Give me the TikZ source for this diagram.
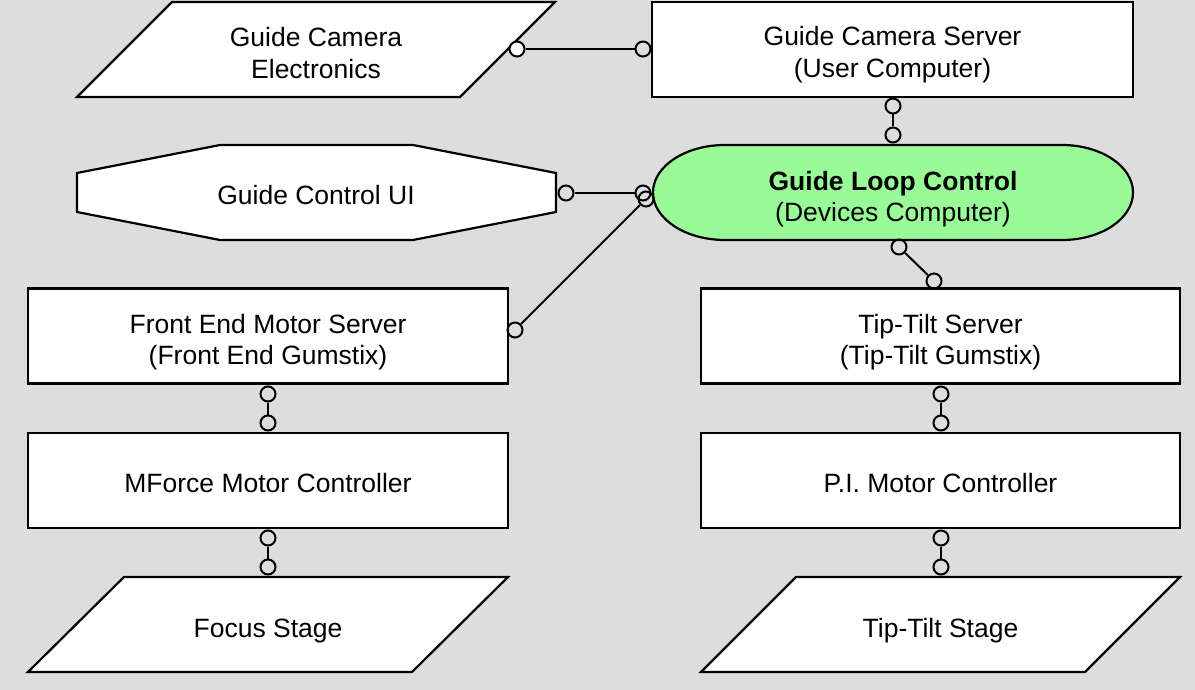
\documentclass[tikz,border=0pt]{standalone}
\usepackage{fontspec}
\setmainfont{Liberation Sans}
\definecolor{bgcol}{RGB}{221,221,221}
\definecolor{glcgreen}{RGB}{152,251,152}
\begin{document}
\begin{tikzpicture}[x=1pt,y=-1pt,line join=miter]
\tikzset{
  txt/.style={font=\fontsize{26.5}{31.5}\selectfont, align=center, inner sep=0pt},
  shapeline/.style={draw=black, fill=white, line width=2.2pt},
  box/.style={shapeline, rectangle, minimum width=480pt, minimum height=95pt, inner sep=0pt},
  port/.style={circle, draw=black, line width=2pt, minimum size=15pt, inner sep=0pt},
  wire/.style={draw=black, line width=2pt}
}
% background
\fill[bgcol] (0,0) rectangle (1195,690);

% Guide Camera Electronics (parallelogram)
\draw[shapeline] (172,2) -- (555,2) -- (460,97) -- (77,97) -- cycle;
\node[txt] (gce) at (316,53) {Guide Camera\\Electronics};

% Guide Camera Server
\node[box, minimum width=481pt] (gcs) at (892.5,49.5) {};
\node[txt] (gcst) at (892.5,54.5) {Guide Camera Server\\(User Computer)};

% Guide Control UI (octagon)
\draw[shapeline] (77,173) -- (220,145) -- (413,145) -- (556,173) -- (556,212) -- (413,240) -- (220,240) -- (77,212) -- cycle;
\node[txt] (gcu) at (316,195) {Guide Control UI};

% Guide Loop Control (stadium)
\draw[shapeline, fill=glcgreen] (725,145) -- (1062,145)
  arc[start angle=-90, end angle=90, x radius=71, y radius=47.5]
  -- (725,240)
  arc[start angle=90, end angle=270, x radius=72, y radius=47.5] -- cycle;
\node[txt] (glc) at (893,199) {\textbf{Guide Loop Control}\\(Devices Computer)};

% left column
\node[box] (fems) at (268,336) {};
\node[txt] (femst) at (268,342) {Front End Motor Server\\(Front End Gumstix)};
\node[box] (mforce) at (268,480.5) {};
\node[txt] (mforcet) at (268,483.5) {MForce Motor Controller};
\draw[shapeline] (124,577) -- (508,577) -- (412,672) -- (28,672) -- cycle;
\node[txt] (focus) at (268,631) {Focus Stage};

% right column
\node[box, minimum width=479pt] (tts) at (940.5,336) {};
\node[txt] (ttst) at (940.5,342) {Tip-Tilt Server\\(Tip-Tilt Gumstix)};
\node[box, minimum width=479pt] (pimc) at (940.5,480.5) {};
\node[txt] (pimct) at (940.5,483.5) {P.I. Motor Controller};
\draw[shapeline] (796,577) -- (1180,577) -- (1085,672) -- (701,672) -- cycle;
\node[txt] (ttstage) at (940.5,631) {Tip-Tilt Stage};

% ports
\node[port, fill=white] (c1) at (517,49) {};
\node[port] (c2) at (643,49) {};
\node[port] (c3) at (893,106) {};
\node[port] (c4) at (893,135) {};
\node[port] (c5) at (566,193) {};
\node[port] (c6) at (643,193) {};
\node[port] (c7) at (646,199) {};
\node[port] (c8) at (515,330) {};
\node[port] (c9) at (899,247) {};
\node[port] (c10) at (934,281) {};
\node[port] (c11) at (268,394) {};
\node[port] (c12) at (268,423) {};
\node[port] (c13) at (268,538) {};
\node[port] (c14) at (268,567) {};
\node[port] (c15) at (941,394) {};
\node[port] (c16) at (941,423) {};
\node[port] (c17) at (941,538) {};
\node[port] (c18) at (941,567) {};

% connectors
\draw[wire] (c1) -- (c2);
\draw[wire] (c3) -- (c4);
\draw[wire] (c5) -- (c6);
\draw[wire] (c7) -- (c8);
\draw[wire] (c9) -- (c10);
\draw[wire] (c11) -- (c12);
\draw[wire] (c13) -- (c14);
\draw[wire] (c15) -- (c16);
\draw[wire] (c17) -- (c18);
\end{tikzpicture}
\end{document}
